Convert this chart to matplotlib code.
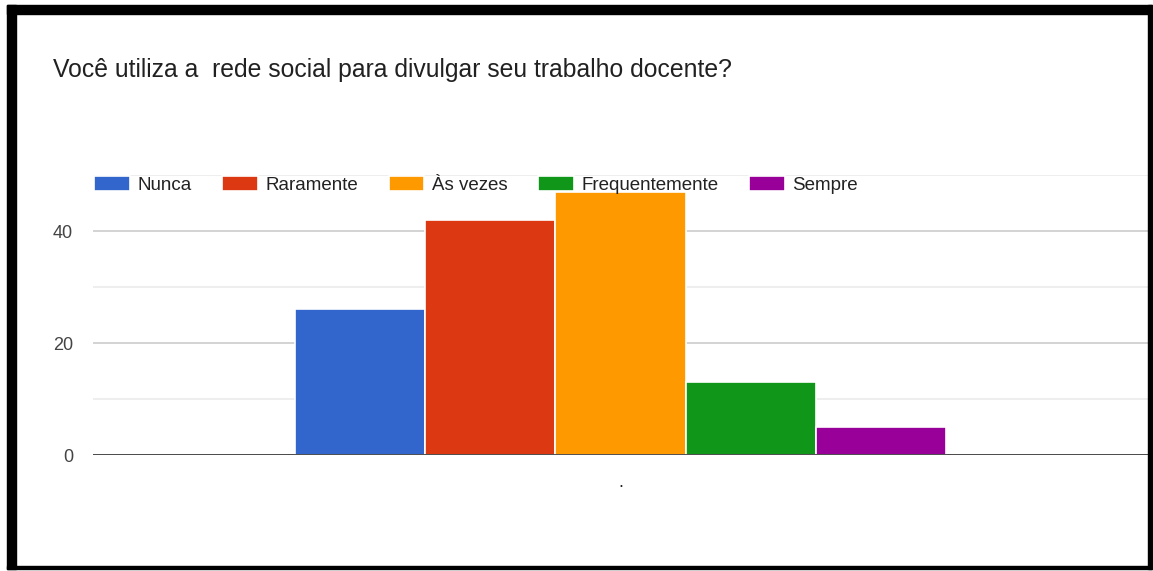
import matplotlib
matplotlib.use("Agg")
import matplotlib.pyplot as plt
from matplotlib.patches import Rectangle

title = "Você utiliza a  rede social para divulgar seu trabalho docente?"
series = ["Nunca", "Raramente", "Às vezes", "Frequentemente", "Sempre"]
values = [26, 42, 47, 13, 5]
colors = ["#3366cc", "#dc3912", "#ff9900", "#109618", "#990099"]
category = ["."]

plt.rcParams['font.family'] = ['Liberation Sans', 'DejaVu Sans']

fig = plt.figure(figsize=(11.53, 5.71), dpi=100)
fig.patch.set_facecolor("white")

# black frame
W, H = 1153, 571
def frect(x0, y0, x1, y1, color):
    fig.patches.append(Rectangle((x0 / W, 1 - y1 / H), (x1 - x0) / W, (y1 - y0) / H,
                                 transform=fig.transFigure, color=color, zorder=0))
frect(7, 5, 1152, 14, "black")
frect(7, 5, 16, 569, "black")
frect(1148, 5, 1152, 569, "black")
frect(7, 566, 1152, 569, "black")

ax = fig.add_axes([93 / W, 116 / H, (1148 - 93) / W, 280 / H])
ax.set_facecolor("none")
n = len(series)
w = 0.1236
for i, (s, v, c) in enumerate(zip(series, values, colors)):
    ax.bar((i - (n - 1) / 2) * w, v, width=w, color=c, edgecolor="white",
           linewidth=1.2, label=s, zorder=3)

ax.set_xlim(-0.5, 0.5)
ax.set_ylim(0, 50)
ax.set_yticks([0, 20, 40])
ax.set_yticks([10, 30, 50], minor=True)
ax.grid(axis="y", which="major", color="#cccccc", linewidth=1.2, zorder=0)
ax.grid(axis="y", which="minor", color="#ebebeb", linewidth=1.2, zorder=0)
ax.axhline(0, color="#333333", linewidth=1.2, zorder=4)
for sp in ax.spines.values():
    sp.set_visible(False)
ax.tick_params(axis="y", which="both", length=0, labelsize=13, labelcolor="#444444", pad=14.4)
ax.set_xticks([0])
ax.set_xticklabels(category, fontsize=13, color="#222222")
ax.tick_params(axis="x", length=0, pad=14)

fig.text(53 / W, 1 - 77 / H, title, fontsize=17.8, color="#212121", va="baseline", ha="left")

leg = ax.legend(loc="center left", bbox_to_anchor=(94 / W, 1 - 185 / H),
                bbox_transform=fig.transFigure, ncol=5, frameon=False,
                fontsize=13.5, handlelength=1.9, handleheight=0.8,
                handletextpad=0.4, columnspacing=1.64, borderaxespad=0, borderpad=0)
for t in leg.get_texts():
    t.set_color("#222222")

fig.savefig("out.png", dpi=100, facecolor="white")
